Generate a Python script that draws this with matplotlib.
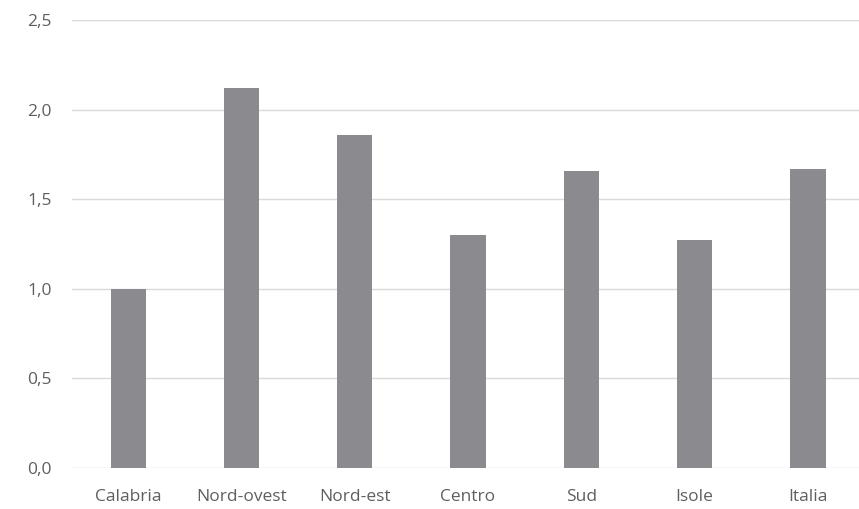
import numpy as np
import matplotlib
matplotlib.use("Agg")
import matplotlib.pyplot as plt
from matplotlib.ticker import FuncFormatter

# regional values
regions = ["Calabria", "Nord-ovest", "Nord-est", "Centro", "Sud", "Isole", "Italia"]
values = [1.00, 2.12, 1.86, 1.30, 1.66, 1.27, 1.67]
yticks = [0.0, 0.5, 1.0, 1.5, 2.0, 2.5]

W, H = 859, 509
fig = plt.figure(figsize=(W / 100, H / 100), dpi=100)
fig.patch.set_facecolor("white")

# axes box in pixel terms: left 71.5, bottom at y=468, top at y=20
left, right = 71.5, W
bottom, top = H - 468, H - 20
ax = fig.add_axes([left / W, bottom / H, (right - left) / W, (top - bottom) / H])

x = np.arange(len(regions))
ax.bar(x, values, width=0.31, color="#8b8b8f", zorder=3)

ax.set_xlim(-0.5, -0.5 + (right - left) / 113.3)
ax.set_ylim(0, 2.5)
ax.set_yticks(yticks)
ax.yaxis.set_major_formatter(FuncFormatter(lambda v, p: f"{v:.1f}".replace(".", ",")))
ax.set_xticks(x)
ax.set_xticklabels(regions)

ax.grid(axis="y", color="#dadada", linewidth=1.0, zorder=0)
for s in ax.spines.values():
    s.set_visible(False)
ax.tick_params(axis="both", length=0, labelsize=12.5, colors="#5f5f5f")
ax.tick_params(axis="y", pad=14)
ax.tick_params(axis="x", pad=15)
for lab in ax.get_xticklabels() + ax.get_yticklabels():
    lab.set_family(["Open Sans", "DejaVu Sans"])

fig.savefig("out.png", dpi=100)
